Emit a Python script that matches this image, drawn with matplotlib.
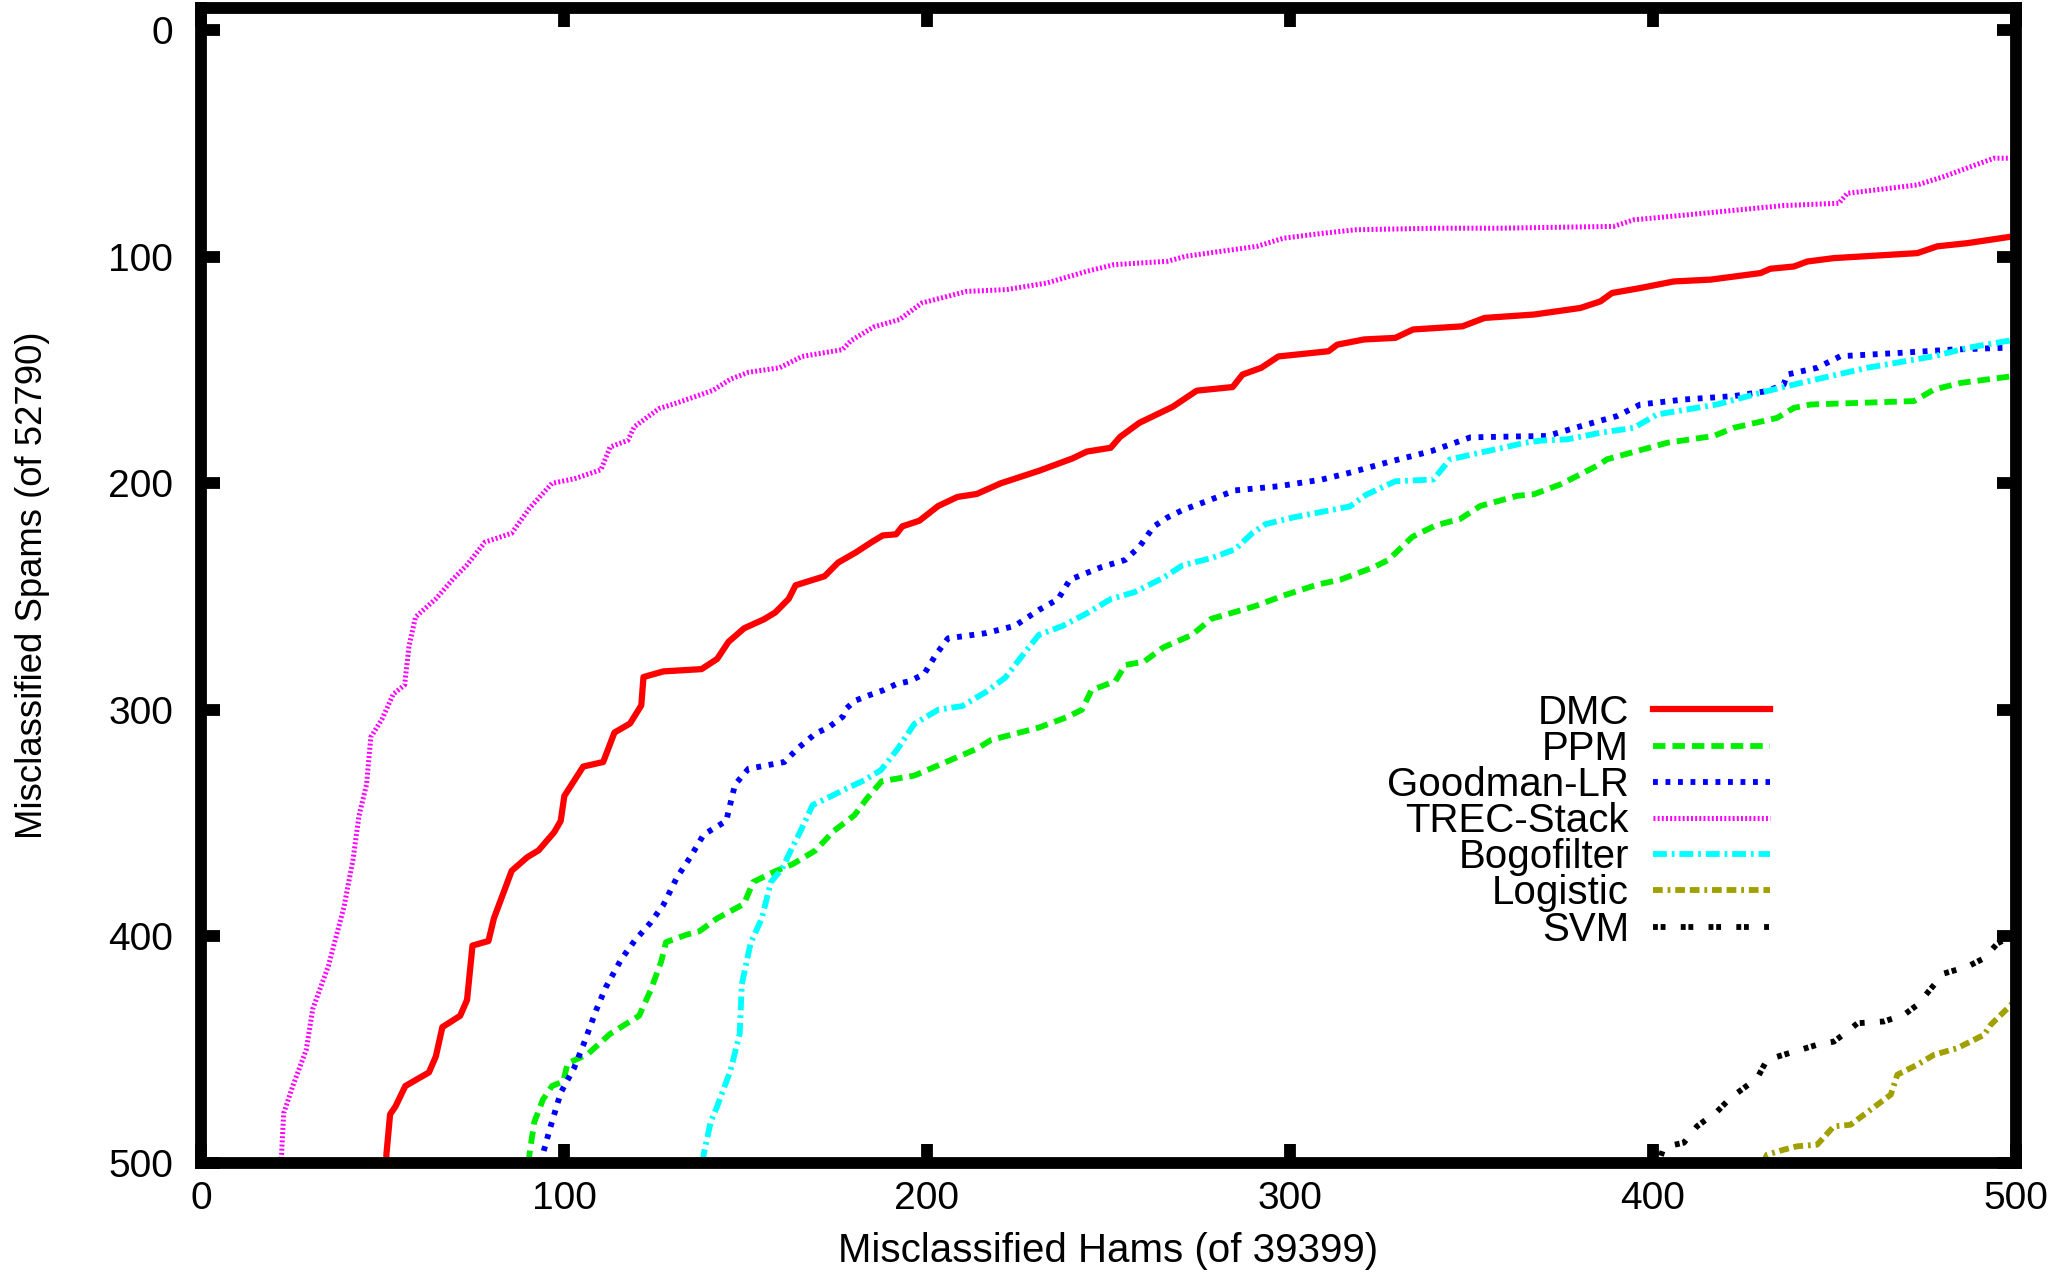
import matplotlib
matplotlib.use("Agg")
import matplotlib.pyplot as plt

plt.rcParams['font.family'] = ['Liberation Sans', 'DejaVu Sans']
plt.rcParams['lines.scale_dashes'] = False

# ---------------- data (misclassified hams, misclassified spams) ----------------
dmc_x = [51, 51.1, 52.1, 53.6, 56.3, 62.8, 64.7, 66.5, 71.4, 73.3, 74.8, 79.2, 80.7, 85.6, 89.9, 93,
         97.3, 99.1, 100.1, 105.3, 110.8, 113.9, 118.2, 121.3, 121.9, 127.4, 137.9, 142.2, 145.3,
         149.6, 155.1, 158.2, 161.9, 163.8, 171.8, 175.5, 180.4, 184.7, 187.8, 191.5, 193.2, 197.9,
         203.1, 208.4, 213.7, 220.3, 230.8, 240.1, 244, 250.6, 253.2, 258.5, 267.7, 274.3, 284.2,
         286.9, 292.1, 296.8, 310.6, 313, 320.4, 329, 333.9, 347.5, 353.6, 367.2, 380, 385.5, 388.7,
         396.5, 405.7, 415.8, 429.6, 432.3, 438.8, 442.5, 449.8, 472.8, 478.3, 486.6, 500]
dmc_y = [500, 496, 478.5, 475, 466, 460, 453, 440, 435, 428, 404, 402, 392, 371, 365, 362,
         354, 349, 338, 325, 323, 310, 306, 298, 285.5, 283, 282, 277.5, 270,
         264, 260, 257, 251, 245, 241, 235, 230.5, 226, 223, 222.5, 219, 216.5,
         210, 206, 204.7, 200, 194.5, 189, 186, 184.3, 179.5, 173.3, 166.2, 159.1, 157.5,
         152, 149, 144, 141.7, 138.8, 136.5, 135.8, 132.1, 130.7, 127, 125.5, 122.6, 119.7, 116,
         113.8, 110.9, 110.1, 107.2, 105.3, 104.3, 102.1, 100.6, 98.4, 95.4, 94, 90.8]

ppm_x = [90.3, 90.5, 91.8, 94.2, 96.7, 99.8, 101, 106.5, 112.7, 120.7, 123.8, 126.8, 128.1, 133.6,
         137.3, 142.2, 149.6, 152.1, 158.2, 163.1, 169.3, 174.2, 180, 183.4, 187.5, 196.5, 204.5,
         213.7, 217.6, 230.8, 238.7, 242.7, 245.3, 251.9, 254.6, 259.8, 265.1, 273, 278.3, 290.2,
         298.1, 307.3, 313.9, 323.1, 327.1, 333.7, 340.2, 346.9, 352.4, 362.7, 367.2, 374.6, 385.4,
         387.3, 403.9, 416.7, 422.2, 434.2, 438.8, 443.4, 471.9, 477.4, 484.7, 500]
ppm_y = [500, 496, 482, 472, 466, 464, 456, 452, 443, 435, 424, 411, 402.5, 399.3,
         397.7, 392, 385.6, 376, 371.2, 368, 362, 353.6, 346.5, 339.2, 331.5, 329, 323.5,
         317.2, 313.3, 307.8, 303.1, 299.9, 291.3, 287.3, 280.2, 278.7, 272.4, 266.9, 259.8, 254.3,
         249.6, 244.8, 242.5, 237, 233.8, 223.6, 218.5, 215.7, 210, 205.5, 204.8, 200.4, 191.6,
         189.4, 182.1, 179.1, 175.5, 171.1, 166.7, 165.2, 163.7, 158.6, 155.7, 152.5]

glr_x = [93.6, 94.2, 96.1, 99.1, 102.8, 105.3, 109, 111.5, 115.8, 119.4, 123.8, 127.4, 131.1, 134.8,
         138.5, 144.7, 145.9, 147.1, 150.8, 160.7, 164.4, 169.3, 172.8, 176.8, 177.9, 180.1, 184.1,
         188, 191.4, 195.2, 199.2, 202.5, 205.8, 216.3, 224.2, 230.8, 236.1, 239.4, 248, 254.6,
         258.5, 262.5, 266.2, 270.4, 277, 284.9, 296.8, 303.2, 308.6, 316.5, 327.1, 338.9, 349.7,
         362.7, 370.8, 381.8, 390.1, 396.5, 408.5, 422.2, 431.4, 436, 436.9, 445.2, 451.6, 468.2,
         482, 500]
glr_y = [500, 496, 485, 469, 458, 448, 432, 422.5, 410, 402, 394, 386, 374, 365,
         355, 349, 341, 333, 326, 323, 317, 310.4, 307.8, 303, 299.2, 296, 293.5,
         291.3, 288.7, 287.3, 284.2, 275.5, 268.4, 266.1, 262.9, 255.9, 251.1, 242.5, 237, 233.8,
         228, 219, 215.1, 211.8, 207.9, 203.1, 201.3, 199.7, 198.4, 195.3, 190.6, 185.8, 179.7,
         179.3, 179.1, 174, 170.3, 165.2, 163, 161.5, 159.3, 156.4, 152, 149, 143.9, 142.4,
         141, 140]

trec_x = [21.8, 22.2, 22.8, 25.3, 29, 30.8, 35.1, 39.4, 41.9, 43.5, 45.6, 46.8, 49.9, 53, 56.1,
          57.3, 59.1, 64.7, 69.6, 73.3, 78.2, 85.6, 90.5, 96.7, 102.8, 110.2, 112.7, 117.6, 119.4,
          126.2, 131.1, 141, 145.9, 150.8, 159.4, 165.6, 176.7, 179.1, 185.3, 192.4, 198.6, 210.9,
          221.9, 233, 244.1, 251.5, 266.2, 271.2, 290.9, 298.2, 309.3, 317.9, 340.1, 357.9, 389.1,
          394.7, 409.4, 436, 451.2, 453.5, 472.8, 480.1, 493.9, 500]
trec_y = [500, 496, 478, 466, 450, 432, 413, 387, 366, 347, 333, 312, 304, 293, 289,
          272, 259, 251, 242, 236, 226, 222, 211, 200, 198, 194, 184, 181, 175,
          167, 164.5, 159, 154, 151, 149, 144, 141, 137, 131, 127.7, 120.4, 115.3,
          114.5, 111.6, 106.4, 103.5, 102, 99.8, 95.4, 91.8, 89.6, 88.1, 87.4, 87.4, 86.6,
          83.7, 81.5, 77.4, 76.4, 72, 68.3, 64.6, 56.5, 56.5]

bogo_x = [138.2, 138.5, 140.4, 142.2, 145.9, 148.4, 149, 151.4, 154.5, 157, 160.1, 163.1, 165,
          168.5, 174.2, 178.1, 182.8, 187.3, 189.6, 192, 196.5, 203.1, 209.7, 216.3, 221.6, 226.9,
          230.8, 237.4, 244, 250.6, 257.2, 265.1, 270.4, 278.3, 284.9, 289.6, 293.3, 301, 311.3,
          316.5, 321, 329, 339.5, 344, 352.2, 358.7, 364.7, 369.3, 376.3, 385.4, 394.7, 401.1,
          417.6, 431.4, 440.6, 459, 477.4, 486.6, 500]
bogo_y = [500, 496, 482, 475, 459, 443, 421, 403, 392, 376, 370, 360, 354,
          342, 337.6, 334.5, 331, 326.6, 322, 317, 306.2, 299.9, 298.3, 292, 285.7, 274.7,
          266.9, 262.9, 257.4, 251.1, 248, 241.7, 236.2, 233, 229.1, 222, 218, 215, 211.8,
          210.2, 205, 199.1, 198.3, 189.5, 186.5, 184.3, 182.1, 181.1, 180.6, 177.7, 175.5, 169.6,
          165.2, 159.3, 155.7, 149, 143.9, 140.2, 136.5]

logistic_x = [430.3, 431.4, 436, 439.7, 445.2, 449.8, 454.4, 459.9, 465.5, 467.3, 472.8, 477.4,
              483.8, 491.2, 493, 500]
logistic_y = [500, 496.3, 494.1, 492.6, 491.9, 483.8, 483.1, 476.5, 469.8, 461, 456.6, 452.2,
              449.3, 443.4, 439, 428]

svm_x = [401.5, 402.9, 405.7, 408.5, 412.1, 417.7, 421.3, 428.7, 431.4, 436, 445.2, 449.8, 453.5,
         456.3, 463.6, 469.1, 472.8, 477.4, 480.2, 486.6, 491.2, 494.9, 500]
svm_y = [500, 493.3, 492, 491, 483.8, 477.2, 471.3, 462.5, 454.4, 452.2, 447.8, 446.4, 442,
         438.3, 437.5, 434.6, 430.2, 421.4, 416.3, 413.3, 409.6, 403, 399]

labels = ["DMC", "PPM", "Goodman-LR", "TREC-Stack", "Bogofilter", "Logistic", "SVM"]
xticks = [0, 100, 200, 300, 400, 500]
yticks = [0, 100, 200, 300, 400, 500]

series = [(dmc_x, dmc_y), (ppm_x, ppm_y), (glr_x, glr_y), (trec_x, trec_y),
          (bogo_x, bogo_y), (logistic_x, logistic_y), (svm_x, svm_y)]

# ---------------- styles ----------------
colors = ['#ff0000', '#00ee00', '#0000ff', '#ff00ff', '#00ffff', '#a0a000', '#000000']
styles = ['-', (0, (9, 5)), (0, (3.5, 5.5)), (0, (1.4, 1.6)), (0, (10, 3.5, 2, 3.5)),
          (0, (7, 3.5, 2, 3.5, 7, 3.5)), (0, (3.5, 2, 3.5, 11))]
widths = [4.5, 4.2, 4.2, 3.6, 4.2, 4.2, 4.2]

fig = plt.figure(figsize=(20.61, 12.75), dpi=100)
ax = fig.add_axes([0.0975, 0.0878, 0.9782 - 0.0975, 0.9941 - 0.0878])

for (xs, ys), lab, c, ls, lw in zip(series, labels, colors, styles, widths):
    ax.plot(xs, ys, color=c, linestyle=ls, linewidth=lw, label=lab,
            solid_joinstyle='round', dash_capstyle='butt')

ax.set_xlim(0, 500)
ax.set_ylim(500, -10)
ax.set_xticks(xticks)
ax.set_yticks(yticks)

for s in ax.spines.values():
    s.set_linewidth(8.5)
    s.set_zorder(5)

ax.tick_params(direction='in', length=14, width=8.5, top=True, right=True,
               labelsize=28, colors='black')
ax.tick_params(axis='x', pad=13)
ax.tick_params(axis='y', pad=20)

ax.set_xlabel("Misclassified Hams (of 39399)", fontsize=29)
ax.set_ylabel("Misclassified Spams (of 52790)", fontsize=26.3)
ax.xaxis.set_label_coords(0.5, -(1251 - 1163) / 1155.5)
ax.xaxis.label.set_va('center')
ax.yaxis.set_label_coords(-(201 - 33) / 1815, 0.5)
ax.yaxis.label.set_va('center')

leg = ax.legend(loc='upper right', bbox_to_anchor=((1770 - 201) / 1815, 1 - (693.5 - 7.5) / 1155.5),
                frameon=False, markerfirst=False, fontsize=29, handlelength=2.9,
                handletextpad=0.6, labelspacing=-0.045, borderpad=0, borderaxespad=0)

fig.savefig("out.png", dpi=100, facecolor='white')
